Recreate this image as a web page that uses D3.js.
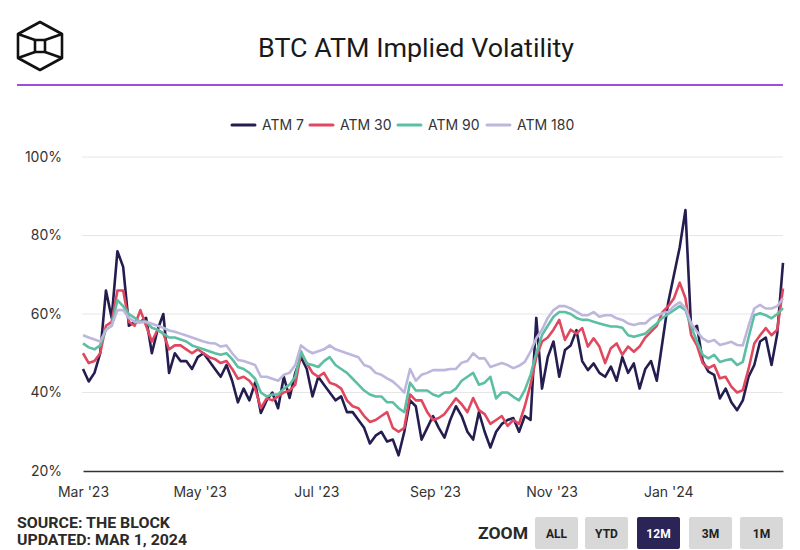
<!DOCTYPE html>
<html><head><meta charset="utf-8">
<script src="https://cdn.jsdelivr.net/npm/d3@7"></script>
<style>
html,body{margin:0;padding:0;background:#fff;}
svg{display:block;}
</style></head>
<body>
<svg id="chart" width="800" height="550"></svg>
<script>
// ---------- DATA ----------
const startDate = "2023-03-01";
const stepDays = 3;
const seriesNames = ["ATM 7", "ATM 30", "ATM 90", "ATM 180"];
const atm7 = [46,42.8,45,50,66,59,76,72,57,58,58,59,50,56,60,45,50,48,48,46,
 49,50,48,46,44,47,43,37.5,41,38,42.5,34.8,38,40,36,44,38.6,45,49,46,
 39,44,42,40,38,39,35,35,33,31,27,29,30,27.5,28,24,30,38,36.5,28,
 31,34,31,28.5,33,36.5,34,30,28,35,30,26,30,32,33,33.5,30,34,33,59,
 41,49,53,44,50.8,52,55.9,48,45.7,47.4,45,44,46.6,43,49,45,47.4,41,46,48,
 43,53,63,70,77,86.5,56,57,48,45.3,44.5,38.5,41,37.5,35.5,38,44,47,53,54,
 47,55,73];
const atm30 = [50,47.5,48,50,57,58,66,66,58,57,61,57,53,56,55,51,52,52,51,50,
 51,50,49,48.5,47.5,48,46,43.5,44,43,41,36,38.5,38,39,40,40.5,42,50,47.5,
 45,44,45,42.5,42,41,38,36.5,36,34,32.5,33,34,35,31,30,31,39.5,38,38,
 35,33,33.5,34.5,36.5,38.5,37,35,38.6,35.5,34.5,32,33,34,31.5,33,32,36.5,42,49,
 53,54,56,58.5,53.4,56,55,56.4,51.7,53.8,51.7,47.5,51.3,52.5,49.6,51.7,50.4,51.7,54,55.5,
 57,60.5,62,64,68,64,54.6,52,47.5,46.2,47,43.6,44,41.5,40,40.6,46,52.5,54.6,56.4,
 54.6,56,66.5];
const atm90 = [52.5,51.5,51,52,56,57,63.5,62,60,59,58,58,56.5,56,55,54,54,53.5,53,52,
 51.5,51,50.5,50,49.6,50,48.5,46.5,46,45,43.5,40,39,39.5,39.5,41,42,44,50.5,47.4,
 47,46.5,48,49,47,46,45,43.5,42,40.5,39.5,39,39,37.5,37.5,36,35,42.5,40.5,40.5,
 40.5,39.5,39,40,40,41,43,44,45,42,42.5,44,38.5,40,40,38.9,38,40.6,44.5,50,
 54.6,57,59.3,60.5,60.5,60,59,58.5,58.5,58,57.6,57.2,56.8,56.8,56.5,54.6,54.2,54.6,55,56.4,
 57.6,59,60,61,62,61,56.8,53,49.6,48.7,49.6,47.8,48.2,48.5,47,47.8,54,59.7,60.2,59.7,
 58.9,60,61.5];
const atm180 = [54.6,54,53.5,53,56,57,61,61,59,58,58,58,57.5,57,56.5,55.8,55.5,55,54.5,54,
 53.5,53,52.6,52.5,51.7,52,50,48.3,48,47.5,47,44,44,43.5,43,44.5,45,47,52,50.8,
 50,50.5,51,52,51,50.5,50,49.5,49,47,46.5,45,44.5,43.6,42.8,41.5,40,46,43,44.5,
 45,45.7,45.7,45.7,46,46,47.6,48,50,48.7,48.7,46.5,47,47.5,47,46.2,46.8,47.8,50.4,53.8,
 56,59,61,62,62,61.4,60.6,59.7,59.7,60.5,59.3,59.7,59.7,58.9,58.5,57.6,57.2,57.6,57.6,58.9,
 59.7,60.2,60.6,62,63,61.5,57.6,55.5,53.8,52.9,53.4,52.1,52.5,52.9,52.1,52,57,61.4,62.3,61.4,
 61.4,62,64];
const yTicks = [20, 40, 60, 80, 100];
const xTickDates = ["2023-03-01","2023-05-01","2023-07-01","2023-09-01","2023-11-01","2024-01-01"];
const zoomButtons = ["ALL", "YTD", "12M", "3M", "1M"];
const activeButton = "12M";

// ---------- STYLE ----------
const colors = ["#241d50", "#e0485f", "#5cbfa3", "#bdb7de"];
const svg = d3.select("#chart");
const plot = {left: 83, right: 783, top: 157, bottom: 471};
const parse = d3.utcParse("%Y-%m-%d");
const t0 = parse(startDate);
const dates = atm7.map((_, i) => d3.utcDay.offset(t0, i * stepDays));

const x = d3.scaleUtc().domain([t0, parse("2024-03-01")]).range([plot.left, plot.right]);
const y = d3.scaleLinear().domain([20, 100]).range([plot.bottom, plot.top]);

// Logo
const logo = svg.append("g").attr("fill","none").attr("stroke","#111").attr("stroke-width",2.6).attr("stroke-linejoin","round");
logo.append("path").attr("d","M40,22 L62,34 L62,58 L40,70 L18,58 L18,34 Z");
logo.append("path").attr("d","M35,40 L45,40 L45,52 L35,52 Z");
logo.append("path").attr("d","M18,34 L35,40 M62,34 L45,40 M18,58 L35,52 M62,58 L45,52");

// Title
svg.append("text").attr("x", 416).attr("y", 57).attr("text-anchor","middle")
  .attr("font-family","Roboto, 'Noto Sans', sans-serif").attr("font-size",25).attr("fill","#1a1a1a")
  .attr("textLength",316).attr("lengthAdjust","spacingAndGlyphs")
  .text("BTC ATM Implied Volatility");

svg.append("line").attr("x1",17).attr("x2",783).attr("y1",85).attr("y2",85)
  .attr("stroke","#9b4fdb").attr("stroke-width",2);

// Legend
const legendX = [232, 310, 398, 487];
const lg = svg.append("g").attr("font-family","Inter, Roboto, sans-serif").attr("font-size",14).attr("fill","#333");
seriesNames.forEach((n, i) => {
  lg.append("line").attr("x1", legendX[i]).attr("x2", legendX[i] + 23).attr("y1",125).attr("y2",125)
    .attr("stroke", colors[i]).attr("stroke-width",3).attr("stroke-linecap","round");
  lg.append("text").attr("x", legendX[i] + 30).attr("y", 130).text(n);
});

// Grid
svg.append("g").selectAll("line").data(yTicks.filter(d => d > 20)).join("line")
  .attr("x1", plot.left - 1).attr("x2", plot.right).attr("y1", d => y(d)).attr("y2", d => y(d))
  .attr("stroke","#e6e6e6").attr("stroke-width",1);

// Y axis
const yAxis = d3.axisLeft(y).tickValues(yTicks).tickFormat(d => d + "%").tickSize(0).tickPadding(0);
const yg = svg.append("g").attr("transform", `translate(62,0)`).call(yAxis);
yg.select(".domain").remove();
yg.selectAll("text").attr("font-family","Inter, Roboto, sans-serif").attr("font-size",14).attr("fill","#333");

// Lines
const line = d3.line().x((d, i) => x(dates[i])).y(d => y(d)).curve(d3.curveLinear);
[atm7, atm30, atm90, atm180].forEach((s, i) => {
  svg.append("path").datum(s).attr("d", line).attr("fill","none")
    .attr("stroke", colors[i]).attr("stroke-width", 2.6).attr("stroke-linejoin","round");
});

// X axis
const xAxis = d3.axisBottom(x).tickValues(xTickDates.map(parse)).tickFormat(d3.utcFormat("%b '%y")).tickSize(0).tickPadding(16);
const xg = svg.append("g").attr("transform", `translate(0,${plot.bottom})`).call(xAxis);
xg.select(".domain").attr("stroke","#333").attr("stroke-width",1.5);
xg.selectAll("text").attr("font-family","Inter, Roboto, sans-serif").attr("font-size",14).attr("fill","#333");

// Footer
const ft = svg.append("g").attr("font-family","Roboto, sans-serif").attr("font-weight",700).attr("fill","#2a2a2a");
ft.append("text").attr("x",17).attr("y",528).attr("font-size",14.5).attr("textLength",153).attr("lengthAdjust","spacingAndGlyphs").text("SOURCE: THE BLOCK");
ft.append("text").attr("x",17).attr("y",545).attr("font-size",14.5).attr("textLength",170).attr("lengthAdjust","spacingAndGlyphs").text("UPDATED: MAR 1, 2024");
ft.append("text").attr("x",478).attr("y",539).attr("font-size",17).attr("textLength",50).attr("lengthAdjust","spacingAndGlyphs").text("ZOOM");

const btnX = [535, 585, 637, 689, 740];
zoomButtons.forEach((b, i) => {
  const act = b === activeButton;
  svg.append("rect").attr("x", btnX[i]).attr("y", 517).attr("width", 43).attr("height", 32).attr("rx", 2)
    .attr("fill", act ? "#2a2457" : "#d8d8d8");
  svg.append("text").attr("x", btnX[i] + 21.5).attr("y", 538).attr("text-anchor","middle")
    .attr("font-family","Roboto, sans-serif").attr("font-weight",700).attr("font-size",12)
    .attr("fill", act ? "#fff" : "#222").text(b);
});
</script>
</body></html>
